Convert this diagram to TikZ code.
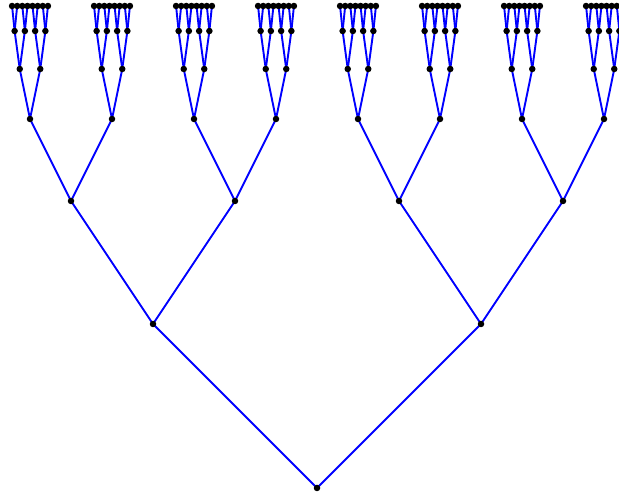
\documentclass[tikz,border=0pt]{standalone}
\begin{document}
\begin{tikzpicture}[x=1pt,y=1pt,
  edge/.style={blue, line width=1.9pt},
  dot/.style={circle, fill=black, inner sep=0pt, minimum size=6.5pt}]
\useasboundingbox (0,0) rectangle (619,497);
\clip (0,0) rectangle (619,497);
\coordinate (c-0-0) at (317,9);
\foreach \k/\dx/\dy in {1/164/164, 2/82/123, 3/41/82, 4/10.25/50, 5/5.125/38, 6/2.5625/25} {
  \pgfmathtruncatemacro\pk{\k-1}
  \pgfmathtruncatemacro\nmax{2^\k-1}
  \foreach \i in {0,...,\nmax} {
    \pgfmathtruncatemacro\p{floor(\i/2)}
    \pgfmathtruncatemacro\s{2*mod(\i,2)-1}
    \path (c-\pk-\p) ++(\s*\dx,\dy) coordinate (c-\k-\i);
    \draw[edge] (c-\pk-\p) -- (c-\k-\i);
  }
}
\foreach \k in {0,...,6} {
  \pgfmathtruncatemacro\nmax{2^\k-1}
  \foreach \i in {0,...,\nmax} {
    \node[dot] (n-\k-\i) at (c-\k-\i) {};
  }
}
\end{tikzpicture}
\end{document}
